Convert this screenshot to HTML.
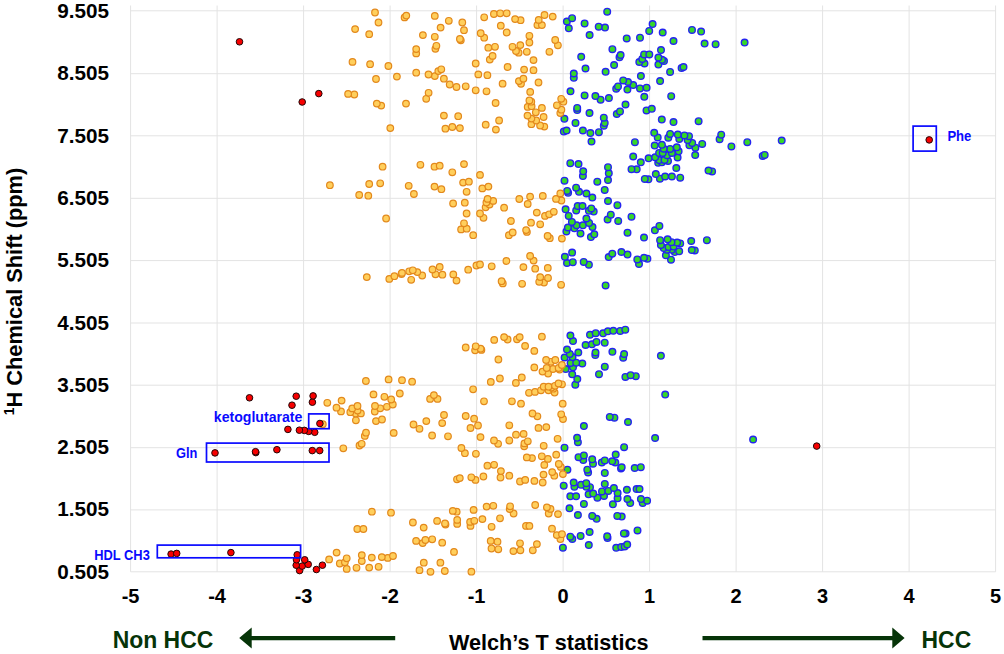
<!DOCTYPE html>
<html><head><meta charset="utf-8"><style>
html,body{margin:0;padding:0;background:#fff;}
svg{display:block;}
text{font-family:"Liberation Sans",sans-serif;font-weight:bold;}
.tk{font-size:20px;fill:#000;}
.gr{fill:#063408;font-size:23px;}
.o circle{fill:#ffcf5c;stroke:#e3891c;stroke-width:1.2;}
.g circle{fill:#36d62a;stroke:#2424f0;stroke-width:1.4;}
.r circle{fill:#f70000;stroke:#200808;stroke-width:1;}
.lb{fill:#0a0aff;font-size:14px;}
</style></head><body>
<svg width="1004" height="654" viewBox="0 0 1004 654">
<rect width="1004" height="654" fill="#fff"/>
<path d="M130.6 5.5V571.8 M217.1 5.5V571.8 M303.6 5.5V571.8 M390.1 5.5V571.8 M476.6 5.5V571.8 M563.1 5.5V571.8 M649.6 5.5V571.8 M736.1 5.5V571.8 M822.6 5.5V571.8 M909.1 5.5V571.8 M995.6 5.5V571.8 M130.6 10.8H995.6 M130.6 73.7H995.6 M130.6 135.8H995.6 M130.6 198.3H995.6 M130.6 260.6H995.6 M130.6 323H995.6 M130.6 385.2H995.6 M130.6 447.7H995.6 M130.6 509.9H995.6 M130.6 571.8H995.6" stroke="#e3e3e3" stroke-width="1" fill="none"/>
<g class="tk"><text x="109.1" y="18.1" text-anchor="end" textLength="51.8" lengthAdjust="spacingAndGlyphs">9.505</text><text x="109.1" y="80.39" text-anchor="end" textLength="51.8" lengthAdjust="spacingAndGlyphs">8.505</text><text x="109.1" y="142.68" text-anchor="end" textLength="51.8" lengthAdjust="spacingAndGlyphs">7.505</text><text x="109.1" y="204.97" text-anchor="end" textLength="51.8" lengthAdjust="spacingAndGlyphs">6.505</text><text x="109.1" y="267.26" text-anchor="end" textLength="51.8" lengthAdjust="spacingAndGlyphs">5.505</text><text x="109.1" y="329.55" text-anchor="end" textLength="51.8" lengthAdjust="spacingAndGlyphs">4.505</text><text x="109.1" y="391.84" text-anchor="end" textLength="51.8" lengthAdjust="spacingAndGlyphs">3.505</text><text x="109.1" y="454.13" text-anchor="end" textLength="51.8" lengthAdjust="spacingAndGlyphs">2.505</text><text x="109.1" y="516.42" text-anchor="end" textLength="51.8" lengthAdjust="spacingAndGlyphs">1.505</text><text x="109.1" y="578.71" text-anchor="end" textLength="51.8" lengthAdjust="spacingAndGlyphs">0.505</text><text x="130.6" y="603.1" text-anchor="middle">-5</text><text x="217.1" y="603.1" text-anchor="middle">-4</text><text x="303.6" y="603.1" text-anchor="middle">-3</text><text x="390.1" y="603.1" text-anchor="middle">-2</text><text x="476.6" y="603.1" text-anchor="middle">-1</text><text x="563.1" y="603.1" text-anchor="middle">0</text><text x="649.6" y="603.1" text-anchor="middle">1</text><text x="736.1" y="603.1" text-anchor="middle">2</text><text x="822.6" y="603.1" text-anchor="middle">3</text><text x="909.1" y="603.1" text-anchor="middle">4</text><text x="995.6" y="603.1" text-anchor="middle">5</text></g>
<text x="22" y="291.5" class="tk" transform="rotate(-90 22 291.5)" text-anchor="middle" textLength="247.5" lengthAdjust="spacingAndGlyphs" style="font-size:22px"><tspan style="font-size:14px" baseline-shift="super">1</tspan>H Chemical Shift (ppm)</text>
<text x="112.7" y="648.3" class="gr" textLength="100.6" lengthAdjust="spacingAndGlyphs">Non HCC</text>
<text x="921.6" y="648" class="gr" textLength="49.6" lengthAdjust="spacingAndGlyphs">HCC</text>
<text x="449" y="650.2" class="tk" style="font-size:22.8px" textLength="199.5" lengthAdjust="spacingAndGlyphs">Welch’s T statistics</text>
<path d="M251.7 636H395.2V640.2H251.7V648.5L239.2 638.1L251.7 627.4Z" fill="#063408"/>
<path d="M702.5 636H892.3V627.5L904.6 638.1L892.3 648.6V640.2H702.5Z" fill="#063408"/>
<g class="g"><circle cx="616.2" cy="547.8" r="3.3"/><circle cx="562.9" cy="547.7" r="3.3"/><circle cx="621.2" cy="547" r="3.3"/><circle cx="624.7" cy="546.5" r="3.3"/><circle cx="588.8" cy="545.1" r="3.3"/><circle cx="627.2" cy="544.5" r="3.3"/><circle cx="572.3" cy="539" r="3.3"/><circle cx="607.5" cy="538" r="3.3"/><circle cx="570.3" cy="536.7" r="3.3"/><circle cx="607.2" cy="536.3" r="3.3"/><circle cx="580.6" cy="535.9" r="3.3"/><circle cx="625.6" cy="533.6" r="3.3"/><circle cx="623.9" cy="533.4" r="3.3"/><circle cx="589.6" cy="532" r="3.3"/><circle cx="637.5" cy="530.4" r="3.3"/><circle cx="596.6" cy="518.8" r="3.3"/><circle cx="621.7" cy="516.6" r="3.3"/><circle cx="592.2" cy="515.9" r="3.3"/><circle cx="617.3" cy="515.9" r="3.3"/><circle cx="577.9" cy="515.1" r="3.3"/><circle cx="569.5" cy="508.3" r="3.3"/><circle cx="612.9" cy="504.3" r="3.3"/><circle cx="583.9" cy="503.9" r="3.3"/><circle cx="630.2" cy="503.1" r="3.3"/><circle cx="642.7" cy="503.1" r="3.3"/><circle cx="647.1" cy="500.7" r="3.3"/><circle cx="640.9" cy="499.1" r="3.3"/><circle cx="627.4" cy="499" r="3.3"/><circle cx="617.6" cy="498.3" r="3.3"/><circle cx="597.4" cy="497.7" r="3.3"/><circle cx="570.3" cy="496.3" r="3.3"/><circle cx="576.1" cy="496.3" r="3.3"/><circle cx="604" cy="495.9" r="3.3"/><circle cx="588.6" cy="494.3" r="3.3"/><circle cx="593.2" cy="493.6" r="3.3"/><circle cx="617.6" cy="493" r="3.3"/><circle cx="602" cy="491.4" r="3.3"/><circle cx="608.3" cy="490.9" r="3.3"/><circle cx="626.9" cy="489.8" r="3.3"/><circle cx="636.6" cy="489.1" r="3.3"/><circle cx="639.5" cy="489.1" r="3.3"/><circle cx="613.9" cy="488" r="3.3"/><circle cx="590" cy="487.2" r="3.3"/><circle cx="574.4" cy="486.8" r="3.3"/><circle cx="586.3" cy="486.8" r="3.3"/><circle cx="563.7" cy="485.7" r="3.3"/><circle cx="581.1" cy="484.8" r="3.3"/><circle cx="604.8" cy="483.9" r="3.3"/><circle cx="586.3" cy="483.2" r="3.3"/><circle cx="573.7" cy="482.5" r="3.3"/><circle cx="604.8" cy="472.9" r="3.3"/><circle cx="588.1" cy="472.5" r="3.3"/><circle cx="567.4" cy="469.7" r="3.3"/><circle cx="587.3" cy="469.7" r="3.3"/><circle cx="621" cy="468.5" r="3.3"/><circle cx="634.7" cy="468" r="3.3"/><circle cx="621.7" cy="467.3" r="3.3"/><circle cx="640.8" cy="467.2" r="3.3"/><circle cx="593" cy="463.7" r="3.3"/><circle cx="601.8" cy="462.5" r="3.3"/><circle cx="615.3" cy="462.5" r="3.3"/><circle cx="612.2" cy="461.3" r="3.3"/><circle cx="604.8" cy="460.4" r="3.3"/><circle cx="583.3" cy="460.1" r="3.3"/><circle cx="592.2" cy="459.3" r="3.3"/><circle cx="578.5" cy="457.2" r="3.3"/><circle cx="583.9" cy="455.4" r="3.3"/><circle cx="615.7" cy="454.6" r="3.3"/><circle cx="564.5" cy="447.7" r="3.3"/><circle cx="624.1" cy="447.2" r="3.3"/><circle cx="577.9" cy="442.2" r="3.3"/><circle cx="753.1" cy="439.5" r="3.3"/><circle cx="655.1" cy="438" r="3.3"/><circle cx="577.1" cy="437.8" r="3.3"/><circle cx="583.9" cy="426.1" r="3.3"/><circle cx="628" cy="422" r="3.3"/><circle cx="614.4" cy="417.7" r="3.3"/><circle cx="609.8" cy="416.9" r="3.3"/><circle cx="665.2" cy="394.6" r="3.3"/><circle cx="575.3" cy="384.7" r="3.3"/><circle cx="577.3" cy="379.1" r="3.3"/><circle cx="625.4" cy="376.9" r="3.3"/><circle cx="635.8" cy="376.2" r="3.3"/><circle cx="630.6" cy="375.2" r="3.3"/><circle cx="572.2" cy="374.3" r="3.3"/><circle cx="599" cy="374.2" r="3.3"/><circle cx="565.7" cy="369.1" r="3.3"/><circle cx="573" cy="367.3" r="3.3"/><circle cx="604.8" cy="366.7" r="3.3"/><circle cx="582.3" cy="363.5" r="3.3"/><circle cx="570.6" cy="362.9" r="3.3"/><circle cx="576.2" cy="362.7" r="3.3"/><circle cx="623.2" cy="357.7" r="3.3"/><circle cx="564.6" cy="357.5" r="3.3"/><circle cx="572.5" cy="357.1" r="3.3"/><circle cx="660.9" cy="355.8" r="3.3"/><circle cx="595.3" cy="355.1" r="3.3"/><circle cx="624.1" cy="354" r="3.3"/><circle cx="569.8" cy="353.9" r="3.3"/><circle cx="578.3" cy="352.5" r="3.3"/><circle cx="595.5" cy="352.5" r="3.3"/><circle cx="612.4" cy="351.8" r="3.3"/><circle cx="567" cy="349.6" r="3.3"/><circle cx="585.6" cy="345" r="3.3"/><circle cx="592" cy="344.3" r="3.3"/><circle cx="604.7" cy="342.7" r="3.3"/><circle cx="596.5" cy="341.9" r="3.3"/><circle cx="573" cy="341.1" r="3.3"/><circle cx="570.4" cy="335.5" r="3.3"/><circle cx="590" cy="334.8" r="3.3"/><circle cx="603.1" cy="333.3" r="3.3"/><circle cx="595.7" cy="333.2" r="3.3"/><circle cx="607.9" cy="331.3" r="3.3"/><circle cx="620.2" cy="330.9" r="3.3"/><circle cx="613.3" cy="330.8" r="3.3"/><circle cx="625.3" cy="329.7" r="3.3"/><circle cx="605.6" cy="285.4" r="3.3"/><circle cx="588.9" cy="264.7" r="3.3"/><circle cx="639" cy="264" r="3.3"/><circle cx="567" cy="263" r="3.3"/><circle cx="572.8" cy="262.2" r="3.3"/><circle cx="583.7" cy="261.9" r="3.3"/><circle cx="671" cy="259.7" r="3.3"/><circle cx="637.3" cy="259.4" r="3.3"/><circle cx="647.4" cy="258.7" r="3.3"/><circle cx="644" cy="257.8" r="3.3"/><circle cx="608.7" cy="257.1" r="3.3"/><circle cx="564.9" cy="256.8" r="3.3"/><circle cx="665.9" cy="255.3" r="3.3"/><circle cx="627.5" cy="254.6" r="3.3"/><circle cx="612.3" cy="253.7" r="3.3"/><circle cx="572.1" cy="252.6" r="3.3"/><circle cx="674.8" cy="252.1" r="3.3"/><circle cx="621.4" cy="252" r="3.3"/><circle cx="679.2" cy="251.3" r="3.3"/><circle cx="694.8" cy="250.4" r="3.3"/><circle cx="691.8" cy="250" r="3.3"/><circle cx="671.7" cy="249.7" r="3.3"/><circle cx="666.9" cy="249.7" r="3.3"/><circle cx="663.7" cy="248.1" r="3.3"/><circle cx="668.5" cy="247" r="3.3"/><circle cx="673.6" cy="246.6" r="3.3"/><circle cx="660.9" cy="245" r="3.3"/><circle cx="680.2" cy="243.4" r="3.3"/><circle cx="677.1" cy="242.6" r="3.3"/><circle cx="671.5" cy="242.2" r="3.3"/><circle cx="691.2" cy="241" r="3.3"/><circle cx="660.1" cy="240.2" r="3.3"/><circle cx="706.9" cy="240.2" r="3.3"/><circle cx="667.6" cy="239.3" r="3.3"/><circle cx="644" cy="237.6" r="3.3"/><circle cx="590.9" cy="237.1" r="3.3"/><circle cx="594.3" cy="234.3" r="3.3"/><circle cx="580.5" cy="233.6" r="3.3"/><circle cx="627.5" cy="232.7" r="3.3"/><circle cx="566.4" cy="231.4" r="3.3"/><circle cx="654.9" cy="230.3" r="3.3"/><circle cx="574.4" cy="228.3" r="3.3"/><circle cx="567.9" cy="227.5" r="3.3"/><circle cx="592.5" cy="227.1" r="3.3"/><circle cx="659.4" cy="225.9" r="3.3"/><circle cx="576.6" cy="225.3" r="3.3"/><circle cx="582.9" cy="225.3" r="3.3"/><circle cx="589.1" cy="222.9" r="3.3"/><circle cx="571.9" cy="221.9" r="3.3"/><circle cx="618.2" cy="220.9" r="3.3"/><circle cx="607.6" cy="219.5" r="3.3"/><circle cx="586.4" cy="218.5" r="3.3"/><circle cx="631.5" cy="216.7" r="3.3"/><circle cx="568.7" cy="215.9" r="3.3"/><circle cx="610.8" cy="214.7" r="3.3"/><circle cx="593.7" cy="211.6" r="3.3"/><circle cx="588.9" cy="210.8" r="3.3"/><circle cx="576.2" cy="210.4" r="3.3"/><circle cx="565.6" cy="209.3" r="3.3"/><circle cx="591.3" cy="208.4" r="3.3"/><circle cx="577.7" cy="206" r="3.3"/><circle cx="582.5" cy="206" r="3.3"/><circle cx="617.4" cy="205.2" r="3.3"/><circle cx="608" cy="201" r="3.3"/><circle cx="592.3" cy="197.6" r="3.3"/><circle cx="586.4" cy="193.5" r="3.3"/><circle cx="568.1" cy="192.8" r="3.3"/><circle cx="579" cy="191.8" r="3.3"/><circle cx="567.2" cy="190.9" r="3.3"/><circle cx="604.7" cy="189.9" r="3.3"/><circle cx="576.1" cy="187.7" r="3.3"/><circle cx="597.3" cy="181.7" r="3.3"/><circle cx="564.5" cy="180.7" r="3.3"/><circle cx="608" cy="180.1" r="3.3"/><circle cx="648.4" cy="179.3" r="3.3"/><circle cx="644.8" cy="178.9" r="3.3"/><circle cx="659.9" cy="178.7" r="3.3"/><circle cx="680.2" cy="177.7" r="3.3"/><circle cx="665.1" cy="176.5" r="3.3"/><circle cx="671.9" cy="176.5" r="3.3"/><circle cx="582.9" cy="176.1" r="3.3"/><circle cx="655.8" cy="174.1" r="3.3"/><circle cx="608.8" cy="173.3" r="3.3"/><circle cx="712.1" cy="171.4" r="3.3"/><circle cx="583.2" cy="171.3" r="3.3"/><circle cx="708.5" cy="170.6" r="3.3"/><circle cx="636.7" cy="169.3" r="3.3"/><circle cx="631.5" cy="169.2" r="3.3"/><circle cx="676.3" cy="168" r="3.3"/><circle cx="608" cy="167.2" r="3.3"/><circle cx="578.5" cy="164.1" r="3.3"/><circle cx="570.3" cy="163.2" r="3.3"/><circle cx="658.2" cy="162.8" r="3.3"/><circle cx="661.9" cy="162.3" r="3.3"/><circle cx="640.8" cy="162.3" r="3.3"/><circle cx="668" cy="160.9" r="3.3"/><circle cx="659.1" cy="160.1" r="3.3"/><circle cx="664.5" cy="159.9" r="3.3"/><circle cx="648.6" cy="158.3" r="3.3"/><circle cx="677.6" cy="157.5" r="3.3"/><circle cx="655.1" cy="157.3" r="3.3"/><circle cx="633.2" cy="156.5" r="3.3"/><circle cx="762.7" cy="155.9" r="3.3"/><circle cx="667.1" cy="155.3" r="3.3"/><circle cx="695.2" cy="155" r="3.3"/><circle cx="764.7" cy="154.9" r="3.3"/><circle cx="659.1" cy="152.9" r="3.3"/><circle cx="662.7" cy="152.9" r="3.3"/><circle cx="671.9" cy="152.9" r="3.3"/><circle cx="678.6" cy="151.3" r="3.3"/><circle cx="670.1" cy="148.9" r="3.3"/><circle cx="663.7" cy="148.7" r="3.3"/><circle cx="695.4" cy="147.7" r="3.3"/><circle cx="676.8" cy="147.3" r="3.3"/><circle cx="731.4" cy="146.4" r="3.3"/><circle cx="654.7" cy="145.6" r="3.3"/><circle cx="689.4" cy="145.3" r="3.3"/><circle cx="661.9" cy="144.8" r="3.3"/><circle cx="702.2" cy="143.9" r="3.3"/><circle cx="692.2" cy="142.9" r="3.3"/><circle cx="634.9" cy="142.2" r="3.3"/><circle cx="747.3" cy="142.2" r="3.3"/><circle cx="591.5" cy="141.6" r="3.3"/><circle cx="781.7" cy="140.6" r="3.3"/><circle cx="687.6" cy="140.1" r="3.3"/><circle cx="719.6" cy="139.2" r="3.3"/><circle cx="679.3" cy="138.9" r="3.3"/><circle cx="668.3" cy="137.7" r="3.3"/><circle cx="657.7" cy="137.4" r="3.3"/><circle cx="689" cy="136.2" r="3.3"/><circle cx="684.4" cy="135.4" r="3.3"/><circle cx="721.2" cy="134.7" r="3.3"/><circle cx="677.8" cy="134.6" r="3.3"/><circle cx="670.1" cy="133.9" r="3.3"/><circle cx="590.4" cy="133.1" r="3.3"/><circle cx="654.2" cy="132.8" r="3.3"/><circle cx="598.9" cy="132.2" r="3.3"/><circle cx="563.8" cy="131.6" r="3.3"/><circle cx="566.6" cy="130.5" r="3.3"/><circle cx="582.9" cy="130.5" r="3.3"/><circle cx="603.8" cy="125.7" r="3.3"/><circle cx="604.7" cy="123.1" r="3.3"/><circle cx="575.5" cy="122.9" r="3.3"/><circle cx="673.5" cy="122.1" r="3.3"/><circle cx="698.6" cy="121.2" r="3.3"/><circle cx="661.8" cy="119.6" r="3.3"/><circle cx="564.4" cy="118.8" r="3.3"/><circle cx="603.8" cy="117.7" r="3.3"/><circle cx="616.8" cy="114" r="3.3"/><circle cx="589.5" cy="113" r="3.3"/><circle cx="620" cy="111.4" r="3.3"/><circle cx="646.5" cy="110.4" r="3.3"/><circle cx="577.2" cy="110.1" r="3.3"/><circle cx="651.8" cy="108.8" r="3.3"/><circle cx="577.2" cy="107.9" r="3.3"/><circle cx="625.5" cy="104.5" r="3.3"/><circle cx="600.6" cy="99.7" r="3.3"/><circle cx="608.9" cy="98" r="3.3"/><circle cx="644.3" cy="96.8" r="3.3"/><circle cx="671.2" cy="96.2" r="3.3"/><circle cx="595.4" cy="96.1" r="3.3"/><circle cx="584.6" cy="95.4" r="3.3"/><circle cx="570.5" cy="91.3" r="3.3"/><circle cx="627.4" cy="89.6" r="3.3"/><circle cx="616.2" cy="88.7" r="3.3"/><circle cx="640" cy="88.4" r="3.3"/><circle cx="646.6" cy="87.7" r="3.3"/><circle cx="618" cy="86.4" r="3.3"/><circle cx="633.2" cy="85.1" r="3.3"/><circle cx="628" cy="82" r="3.3"/><circle cx="660.1" cy="81.1" r="3.3"/><circle cx="623.2" cy="80.4" r="3.3"/><circle cx="573.8" cy="77.8" r="3.3"/><circle cx="640.9" cy="76.1" r="3.3"/><circle cx="573.8" cy="73.5" r="3.3"/><circle cx="670.1" cy="71.9" r="3.3"/><circle cx="605.6" cy="71.8" r="3.3"/><circle cx="585.5" cy="68.5" r="3.3"/><circle cx="681.6" cy="67.9" r="3.3"/><circle cx="683.5" cy="67" r="3.3"/><circle cx="614.1" cy="65" r="3.3"/><circle cx="658.4" cy="64.6" r="3.3"/><circle cx="644.5" cy="63.5" r="3.3"/><circle cx="639.3" cy="62" r="3.3"/><circle cx="664" cy="61.1" r="3.3"/><circle cx="662.1" cy="59.8" r="3.3"/><circle cx="642.3" cy="58.9" r="3.3"/><circle cx="658.4" cy="57.6" r="3.3"/><circle cx="619.5" cy="57.2" r="3.3"/><circle cx="581.2" cy="56.8" r="3.3"/><circle cx="620.6" cy="55" r="3.3"/><circle cx="644.1" cy="54.4" r="3.3"/><circle cx="649.3" cy="54.4" r="3.3"/><circle cx="661" cy="50.1" r="3.3"/><circle cx="612.4" cy="49.2" r="3.3"/><circle cx="715.6" cy="44.2" r="3.3"/><circle cx="704.6" cy="43.6" r="3.3"/><circle cx="744.6" cy="42.6" r="3.3"/><circle cx="673.5" cy="41" r="3.3"/><circle cx="626.7" cy="38.4" r="3.3"/><circle cx="640" cy="37.7" r="3.3"/><circle cx="589.6" cy="35.1" r="3.3"/><circle cx="662.7" cy="32.5" r="3.3"/><circle cx="701.1" cy="31.6" r="3.3"/><circle cx="649.2" cy="30.9" r="3.3"/><circle cx="692" cy="29.9" r="3.3"/><circle cx="568.8" cy="28.3" r="3.3"/><circle cx="605" cy="27.6" r="3.3"/><circle cx="598.7" cy="26.7" r="3.3"/><circle cx="652.6" cy="24.1" r="3.3"/><circle cx="584.6" cy="23.4" r="3.3"/><circle cx="566.9" cy="21.5" r="3.3"/><circle cx="572.1" cy="18.2" r="3.3"/><circle cx="607.2" cy="11.7" r="3.3"/></g>
<g class="o"><circle cx="430.5" cy="571.8" r="3.3"/><circle cx="471.4" cy="571.7" r="3.3"/><circle cx="444.8" cy="571" r="3.3"/><circle cx="419.5" cy="570.2" r="3.3"/><circle cx="346.7" cy="568.9" r="3.3"/><circle cx="356.5" cy="567.8" r="3.3"/><circle cx="369.2" cy="567.6" r="3.3"/><circle cx="378.6" cy="566.8" r="3.3"/><circle cx="339.8" cy="563.5" r="3.3"/><circle cx="423.8" cy="562.7" r="3.3"/><circle cx="440.4" cy="562.7" r="3.3"/><circle cx="344.9" cy="562.3" r="3.3"/><circle cx="361.8" cy="561.1" r="3.3"/><circle cx="329.1" cy="559.4" r="3.3"/><circle cx="346.7" cy="558.3" r="3.3"/><circle cx="387.7" cy="557.9" r="3.3"/><circle cx="371.8" cy="557.6" r="3.3"/><circle cx="381.8" cy="557.1" r="3.3"/><circle cx="393" cy="556" r="3.3"/><circle cx="361.8" cy="555.1" r="3.3"/><circle cx="336.6" cy="552.6" r="3.3"/><circle cx="454" cy="551.9" r="3.3"/><circle cx="513.4" cy="551.1" r="3.3"/><circle cx="520.4" cy="550.3" r="3.3"/><circle cx="532.8" cy="550.3" r="3.3"/><circle cx="498.3" cy="549.3" r="3.3"/><circle cx="491.5" cy="548.5" r="3.3"/><circle cx="536.9" cy="544.1" r="3.3"/><circle cx="520" cy="543.3" r="3.3"/><circle cx="422.7" cy="543.1" r="3.3"/><circle cx="442.2" cy="542.7" r="3.3"/><circle cx="497.5" cy="541.7" r="3.3"/><circle cx="416.1" cy="540.9" r="3.3"/><circle cx="490.7" cy="540.9" r="3.3"/><circle cx="425.4" cy="540" r="3.3"/><circle cx="432.2" cy="539.3" r="3.3"/><circle cx="560.4" cy="539.1" r="3.3"/><circle cx="556.8" cy="535.1" r="3.3"/><circle cx="562" cy="534.2" r="3.3"/><circle cx="357.3" cy="529" r="3.3"/><circle cx="363.4" cy="529" r="3.3"/><circle cx="552" cy="528.7" r="3.3"/><circle cx="423.7" cy="527.6" r="3.3"/><circle cx="491.6" cy="526.8" r="3.3"/><circle cx="470.5" cy="525.9" r="3.3"/><circle cx="526" cy="525.9" r="3.3"/><circle cx="529.4" cy="525.9" r="3.3"/><circle cx="445.5" cy="524.5" r="3.3"/><circle cx="457.2" cy="523.9" r="3.3"/><circle cx="445" cy="523.5" r="3.3"/><circle cx="412.9" cy="522.5" r="3.3"/><circle cx="470.1" cy="521.9" r="3.3"/><circle cx="437.1" cy="520.9" r="3.3"/><circle cx="474.3" cy="520.8" r="3.3"/><circle cx="457.2" cy="519.9" r="3.3"/><circle cx="482.4" cy="519.1" r="3.3"/><circle cx="500" cy="518.3" r="3.3"/><circle cx="558" cy="514.1" r="3.3"/><circle cx="513.6" cy="513.5" r="3.3"/><circle cx="548.7" cy="513.5" r="3.3"/><circle cx="391" cy="512.7" r="3.3"/><circle cx="371.9" cy="511.7" r="3.3"/><circle cx="456.7" cy="511.7" r="3.3"/><circle cx="452.8" cy="510.9" r="3.3"/><circle cx="473.6" cy="509.9" r="3.3"/><circle cx="509.7" cy="509.1" r="3.3"/><circle cx="550.5" cy="508.9" r="3.3"/><circle cx="546.9" cy="507.4" r="3.3"/><circle cx="486.6" cy="506.6" r="3.3"/><circle cx="510.1" cy="506.3" r="3.3"/><circle cx="493.3" cy="505.8" r="3.3"/><circle cx="535.2" cy="505" r="3.3"/><circle cx="542.7" cy="482.5" r="3.3"/><circle cx="520" cy="481.5" r="3.3"/><circle cx="534.4" cy="480.9" r="3.3"/><circle cx="475.5" cy="479.9" r="3.3"/><circle cx="525.2" cy="479.9" r="3.3"/><circle cx="457" cy="479.3" r="3.3"/><circle cx="459.8" cy="478.1" r="3.3"/><circle cx="500.5" cy="477.5" r="3.3"/><circle cx="471.3" cy="477.3" r="3.3"/><circle cx="483.4" cy="476.5" r="3.3"/><circle cx="509.3" cy="475.7" r="3.3"/><circle cx="554.3" cy="475.7" r="3.3"/><circle cx="543.5" cy="474.6" r="3.3"/><circle cx="562.9" cy="474.1" r="3.3"/><circle cx="552.2" cy="472.1" r="3.3"/><circle cx="500.9" cy="471.1" r="3.3"/><circle cx="560.8" cy="466.9" r="3.3"/><circle cx="487.4" cy="465.7" r="3.3"/><circle cx="544.3" cy="464.9" r="3.3"/><circle cx="494.1" cy="464.8" r="3.3"/><circle cx="558.8" cy="464" r="3.3"/><circle cx="547.9" cy="458.9" r="3.3"/><circle cx="532" cy="458.1" r="3.3"/><circle cx="526.8" cy="457.4" r="3.3"/><circle cx="541.8" cy="456.3" r="3.3"/><circle cx="556.2" cy="454.7" r="3.3"/><circle cx="475.9" cy="453.8" r="3.3"/><circle cx="464.9" cy="453.2" r="3.3"/><circle cx="343.3" cy="448.3" r="3.3"/><circle cx="461.4" cy="448" r="3.3"/><circle cx="524.2" cy="446.3" r="3.3"/><circle cx="543.7" cy="445.8" r="3.3"/><circle cx="359.5" cy="445.5" r="3.3"/><circle cx="361.7" cy="443.8" r="3.3"/><circle cx="498.1" cy="443.8" r="3.3"/><circle cx="524.4" cy="443.4" r="3.3"/><circle cx="527.8" cy="441.3" r="3.3"/><circle cx="494" cy="440.5" r="3.3"/><circle cx="509.3" cy="440.5" r="3.3"/><circle cx="557.6" cy="438.8" r="3.3"/><circle cx="480.5" cy="437.1" r="3.3"/><circle cx="448" cy="436.3" r="3.3"/><circle cx="364.8" cy="435.9" r="3.3"/><circle cx="432.1" cy="435.5" r="3.3"/><circle cx="516" cy="434.7" r="3.3"/><circle cx="523.6" cy="433.9" r="3.3"/><circle cx="393.7" cy="432.9" r="3.3"/><circle cx="366" cy="432.7" r="3.3"/><circle cx="419.5" cy="428.8" r="3.3"/><circle cx="470.5" cy="428" r="3.3"/><circle cx="538.5" cy="427.9" r="3.3"/><circle cx="546.3" cy="427.1" r="3.3"/><circle cx="478" cy="425.5" r="3.3"/><circle cx="509.3" cy="425.3" r="3.3"/><circle cx="413.5" cy="424.5" r="3.3"/><circle cx="322.8" cy="424.2" r="3.3"/><circle cx="442.2" cy="423.1" r="3.3"/><circle cx="376" cy="421.1" r="3.3"/><circle cx="426.3" cy="421.1" r="3.3"/><circle cx="355.9" cy="420.3" r="3.3"/><circle cx="382" cy="419.5" r="3.3"/><circle cx="563" cy="419" r="3.3"/><circle cx="474.1" cy="418.7" r="3.3"/><circle cx="537.4" cy="416.3" r="3.3"/><circle cx="465.7" cy="416" r="3.3"/><circle cx="444" cy="415" r="3.3"/><circle cx="561.2" cy="414.3" r="3.3"/><circle cx="355.7" cy="413.5" r="3.3"/><circle cx="532.5" cy="413.5" r="3.3"/><circle cx="360.9" cy="413.4" r="3.3"/><circle cx="350.3" cy="412.2" r="3.3"/><circle cx="374.8" cy="411.5" r="3.3"/><circle cx="341" cy="411.4" r="3.3"/><circle cx="357.6" cy="410.6" r="3.3"/><circle cx="352.2" cy="408.4" r="3.3"/><circle cx="380.2" cy="408.3" r="3.3"/><circle cx="336.5" cy="407.7" r="3.3"/><circle cx="386.9" cy="406.8" r="3.3"/><circle cx="357.5" cy="406" r="3.3"/><circle cx="375" cy="406" r="3.3"/><circle cx="392.8" cy="404.5" r="3.3"/><circle cx="521" cy="403.7" r="3.3"/><circle cx="562.7" cy="403.7" r="3.3"/><circle cx="327.3" cy="402.8" r="3.3"/><circle cx="484" cy="401.3" r="3.3"/><circle cx="511.9" cy="401.3" r="3.3"/><circle cx="341.6" cy="400.6" r="3.3"/><circle cx="391.2" cy="399.5" r="3.3"/><circle cx="430.1" cy="398.9" r="3.3"/><circle cx="437.5" cy="398.9" r="3.3"/><circle cx="384.4" cy="396.8" r="3.3"/><circle cx="433.9" cy="395.1" r="3.3"/><circle cx="373.5" cy="394.4" r="3.3"/><circle cx="399.8" cy="393.5" r="3.3"/><circle cx="529" cy="392.8" r="3.3"/><circle cx="554.6" cy="392.5" r="3.3"/><circle cx="535" cy="391.9" r="3.3"/><circle cx="541" cy="390.3" r="3.3"/><circle cx="548.5" cy="390.3" r="3.3"/><circle cx="473.1" cy="389.3" r="3.3"/><circle cx="553.3" cy="388.7" r="3.3"/><circle cx="551.6" cy="387.5" r="3.3"/><circle cx="543.7" cy="386.7" r="3.3"/><circle cx="548.5" cy="386.7" r="3.3"/><circle cx="555" cy="385.8" r="3.3"/><circle cx="562" cy="384.3" r="3.3"/><circle cx="558.5" cy="383.5" r="3.3"/><circle cx="515.9" cy="382.9" r="3.3"/><circle cx="490.8" cy="381.9" r="3.3"/><circle cx="412.1" cy="381.7" r="3.3"/><circle cx="365.9" cy="381" r="3.3"/><circle cx="402" cy="380.2" r="3.3"/><circle cx="388.6" cy="379.4" r="3.3"/><circle cx="499.9" cy="378.5" r="3.3"/><circle cx="521.8" cy="377.5" r="3.3"/><circle cx="548.1" cy="373.5" r="3.3"/><circle cx="542.5" cy="371.6" r="3.3"/><circle cx="559.6" cy="369.6" r="3.3"/><circle cx="553" cy="369" r="3.3"/><circle cx="546.7" cy="368" r="3.3"/><circle cx="558.6" cy="368" r="3.3"/><circle cx="534.3" cy="367.4" r="3.3"/><circle cx="561.9" cy="365" r="3.3"/><circle cx="551" cy="361.8" r="3.3"/><circle cx="546.1" cy="360" r="3.3"/><circle cx="555.3" cy="360" r="3.3"/><circle cx="498.4" cy="359.5" r="3.3"/><circle cx="534.3" cy="350.9" r="3.3"/><circle cx="475.1" cy="350.3" r="3.3"/><circle cx="481.4" cy="349.9" r="3.3"/><circle cx="480.6" cy="348.7" r="3.3"/><circle cx="465.7" cy="347.5" r="3.3"/><circle cx="475.7" cy="346.3" r="3.3"/><circle cx="525.1" cy="345.9" r="3.3"/><circle cx="494.2" cy="339.9" r="3.3"/><circle cx="507.6" cy="339.5" r="3.3"/><circle cx="517" cy="339.3" r="3.3"/><circle cx="504.1" cy="337.1" r="3.3"/><circle cx="519.7" cy="337.1" r="3.3"/><circle cx="541.9" cy="336.7" r="3.3"/><circle cx="561.1" cy="284.8" r="3.3"/><circle cx="522.1" cy="283.8" r="3.3"/><circle cx="502.8" cy="283.4" r="3.3"/><circle cx="544" cy="282.6" r="3.3"/><circle cx="539.2" cy="281.8" r="3.3"/><circle cx="501.6" cy="281.2" r="3.3"/><circle cx="456.5" cy="280.6" r="3.3"/><circle cx="411.2" cy="279.8" r="3.3"/><circle cx="389.3" cy="278.9" r="3.3"/><circle cx="548" cy="278" r="3.3"/><circle cx="366.8" cy="277.1" r="3.3"/><circle cx="540.2" cy="277.1" r="3.3"/><circle cx="394.4" cy="276.2" r="3.3"/><circle cx="422.2" cy="275.5" r="3.3"/><circle cx="442.4" cy="274.7" r="3.3"/><circle cx="453.3" cy="274.4" r="3.3"/><circle cx="435.5" cy="274.3" r="3.3"/><circle cx="401.5" cy="274" r="3.3"/><circle cx="402" cy="272.9" r="3.3"/><circle cx="417.3" cy="272.1" r="3.3"/><circle cx="409.2" cy="271.3" r="3.3"/><circle cx="412.8" cy="270.3" r="3.3"/><circle cx="468.2" cy="269.7" r="3.3"/><circle cx="432.5" cy="269.5" r="3.3"/><circle cx="535.2" cy="268.7" r="3.3"/><circle cx="547.8" cy="267.9" r="3.3"/><circle cx="523.4" cy="267.1" r="3.3"/><circle cx="439.7" cy="266.9" r="3.3"/><circle cx="491.7" cy="266.3" r="3.3"/><circle cx="476.4" cy="265.5" r="3.3"/><circle cx="480" cy="264.5" r="3.3"/><circle cx="506.4" cy="261" r="3.3"/><circle cx="533.6" cy="260.6" r="3.3"/><circle cx="530.1" cy="255.9" r="3.3"/><circle cx="561.9" cy="238.6" r="3.3"/><circle cx="549.8" cy="238.2" r="3.3"/><circle cx="547.6" cy="235.9" r="3.3"/><circle cx="473.2" cy="235.2" r="3.3"/><circle cx="508.9" cy="235.2" r="3.3"/><circle cx="512.7" cy="232.5" r="3.3"/><circle cx="526.9" cy="231.9" r="3.3"/><circle cx="526.1" cy="230.1" r="3.3"/><circle cx="461.1" cy="229.4" r="3.3"/><circle cx="466.7" cy="228.7" r="3.3"/><circle cx="540.2" cy="224.3" r="3.3"/><circle cx="464" cy="223.3" r="3.3"/><circle cx="531" cy="222.7" r="3.3"/><circle cx="510.9" cy="221" r="3.3"/><circle cx="386.1" cy="218.5" r="3.3"/><circle cx="483.5" cy="217.8" r="3.3"/><circle cx="545" cy="215.9" r="3.3"/><circle cx="549.2" cy="214.3" r="3.3"/><circle cx="466.6" cy="213.5" r="3.3"/><circle cx="480" cy="213.5" r="3.3"/><circle cx="536.8" cy="212.6" r="3.3"/><circle cx="553.8" cy="211.8" r="3.3"/><circle cx="504.1" cy="207.7" r="3.3"/><circle cx="485.6" cy="207.3" r="3.3"/><circle cx="489.6" cy="204.5" r="3.3"/><circle cx="527.7" cy="204" r="3.3"/><circle cx="453.1" cy="203.5" r="3.3"/><circle cx="464.8" cy="202.7" r="3.3"/><circle cx="486.4" cy="202.5" r="3.3"/><circle cx="493.2" cy="200.9" r="3.3"/><circle cx="561.4" cy="200.5" r="3.3"/><circle cx="519.3" cy="199" r="3.3"/><circle cx="487.6" cy="198.9" r="3.3"/><circle cx="556" cy="198.9" r="3.3"/><circle cx="530.1" cy="196.6" r="3.3"/><circle cx="542.8" cy="195.9" r="3.3"/><circle cx="368.3" cy="195.7" r="3.3"/><circle cx="359.2" cy="195" r="3.3"/><circle cx="413.9" cy="194" r="3.3"/><circle cx="560.3" cy="193.4" r="3.3"/><circle cx="466.6" cy="191.8" r="3.3"/><circle cx="441.4" cy="189.2" r="3.3"/><circle cx="482.3" cy="188.4" r="3.3"/><circle cx="434.5" cy="186.6" r="3.3"/><circle cx="488.4" cy="186.6" r="3.3"/><circle cx="408.7" cy="185.8" r="3.3"/><circle cx="329.9" cy="185.2" r="3.3"/><circle cx="369.2" cy="184" r="3.3"/><circle cx="380.2" cy="183.3" r="3.3"/><circle cx="463.1" cy="182.6" r="3.3"/><circle cx="468.9" cy="181.7" r="3.3"/><circle cx="480" cy="174.9" r="3.3"/><circle cx="452.3" cy="172.3" r="3.3"/><circle cx="382.6" cy="166.7" r="3.3"/><circle cx="434.5" cy="166.7" r="3.3"/><circle cx="439.7" cy="165.7" r="3.3"/><circle cx="420.4" cy="164.8" r="3.3"/><circle cx="464" cy="164.1" r="3.3"/><circle cx="495.9" cy="129.6" r="3.3"/><circle cx="445.4" cy="128.7" r="3.3"/><circle cx="390.3" cy="128.1" r="3.3"/><circle cx="459.9" cy="128.1" r="3.3"/><circle cx="452.3" cy="127" r="3.3"/><circle cx="544.3" cy="126.6" r="3.3"/><circle cx="540.1" cy="125.5" r="3.3"/><circle cx="485.7" cy="124.7" r="3.3"/><circle cx="531.4" cy="124.2" r="3.3"/><circle cx="499.1" cy="120.5" r="3.3"/><circle cx="536.2" cy="120.5" r="3.3"/><circle cx="531.4" cy="118.6" r="3.3"/><circle cx="543.6" cy="117" r="3.3"/><circle cx="458.2" cy="116.2" r="3.3"/><circle cx="443.9" cy="115.6" r="3.3"/><circle cx="527.5" cy="115.6" r="3.3"/><circle cx="560.3" cy="113.1" r="3.3"/><circle cx="535.8" cy="112.3" r="3.3"/><circle cx="561.4" cy="109.7" r="3.3"/><circle cx="541.9" cy="107.9" r="3.3"/><circle cx="527.7" cy="106.9" r="3.3"/><circle cx="531.6" cy="106.2" r="3.3"/><circle cx="381.2" cy="105.6" r="3.3"/><circle cx="556.9" cy="105.3" r="3.3"/><circle cx="376.8" cy="103.6" r="3.3"/><circle cx="406" cy="103.6" r="3.3"/><circle cx="495.6" cy="103" r="3.3"/><circle cx="531.3" cy="101.7" r="3.3"/><circle cx="563.4" cy="101.7" r="3.3"/><circle cx="529.4" cy="100.4" r="3.3"/><circle cx="426.2" cy="98.8" r="3.3"/><circle cx="561.2" cy="98.8" r="3.3"/><circle cx="354.3" cy="94.5" r="3.3"/><circle cx="348.1" cy="93.9" r="3.3"/><circle cx="428.6" cy="92.8" r="3.3"/><circle cx="530.2" cy="91.9" r="3.3"/><circle cx="486.5" cy="91.3" r="3.3"/><circle cx="475.7" cy="90.3" r="3.3"/><circle cx="456.5" cy="87" r="3.3"/><circle cx="465.7" cy="86.3" r="3.3"/><circle cx="449.7" cy="84.5" r="3.3"/><circle cx="521" cy="83.8" r="3.3"/><circle cx="502.6" cy="83.7" r="3.3"/><circle cx="538.5" cy="82.5" r="3.3"/><circle cx="518.9" cy="81.1" r="3.3"/><circle cx="376" cy="79" r="3.3"/><circle cx="443.9" cy="78.7" r="3.3"/><circle cx="523.4" cy="78.7" r="3.3"/><circle cx="396.9" cy="76.6" r="3.3"/><circle cx="434.8" cy="76.1" r="3.3"/><circle cx="487.4" cy="75.2" r="3.3"/><circle cx="428.5" cy="74.5" r="3.3"/><circle cx="478.3" cy="74.4" r="3.3"/><circle cx="416.2" cy="72.7" r="3.3"/><circle cx="438.3" cy="71.1" r="3.3"/><circle cx="533.5" cy="70.2" r="3.3"/><circle cx="524.1" cy="69.6" r="3.3"/><circle cx="441.3" cy="69.3" r="3.3"/><circle cx="507.6" cy="67" r="3.3"/><circle cx="388.4" cy="66" r="3.3"/><circle cx="370.1" cy="64.2" r="3.3"/><circle cx="475.7" cy="63.5" r="3.3"/><circle cx="352.5" cy="61.9" r="3.3"/><circle cx="533.5" cy="60.1" r="3.3"/><circle cx="489.8" cy="59.6" r="3.3"/><circle cx="492.6" cy="55.9" r="3.3"/><circle cx="416.2" cy="53.4" r="3.3"/><circle cx="518.6" cy="52.7" r="3.3"/><circle cx="526.8" cy="51.8" r="3.3"/><circle cx="549.4" cy="51.8" r="3.3"/><circle cx="516" cy="51" r="3.3"/><circle cx="416.2" cy="49.1" r="3.3"/><circle cx="435.4" cy="48.8" r="3.3"/><circle cx="488.3" cy="47.7" r="3.3"/><circle cx="495" cy="46.8" r="3.3"/><circle cx="512.5" cy="46.8" r="3.3"/><circle cx="436.4" cy="45.8" r="3.3"/><circle cx="557.9" cy="45.3" r="3.3"/><circle cx="520.3" cy="45.1" r="3.3"/><circle cx="529.4" cy="42.5" r="3.3"/><circle cx="460.8" cy="40.3" r="3.3"/><circle cx="555.2" cy="40" r="3.3"/><circle cx="459.9" cy="39" r="3.3"/><circle cx="484.2" cy="37.7" r="3.3"/><circle cx="434.8" cy="36.8" r="3.3"/><circle cx="529.4" cy="35.8" r="3.3"/><circle cx="422.9" cy="35.1" r="3.3"/><circle cx="369.2" cy="34.2" r="3.3"/><circle cx="480.7" cy="33.2" r="3.3"/><circle cx="506.7" cy="32.5" r="3.3"/><circle cx="464" cy="30.2" r="3.3"/><circle cx="355.1" cy="29.1" r="3.3"/><circle cx="440.6" cy="27.6" r="3.3"/><circle cx="500.8" cy="25.7" r="3.3"/><circle cx="537.4" cy="25.1" r="3.3"/><circle cx="541.9" cy="25.1" r="3.3"/><circle cx="378.5" cy="22.5" r="3.3"/><circle cx="462.3" cy="22.5" r="3.3"/><circle cx="448.8" cy="20.8" r="3.3"/><circle cx="520.6" cy="20.2" r="3.3"/><circle cx="538.7" cy="19.9" r="3.3"/><circle cx="515.1" cy="19.1" r="3.3"/><circle cx="404.6" cy="17.4" r="3.3"/><circle cx="484.2" cy="17.3" r="3.3"/><circle cx="552.7" cy="16.6" r="3.3"/><circle cx="434.8" cy="15.9" r="3.3"/><circle cx="406.3" cy="15.6" r="3.3"/><circle cx="544.5" cy="15" r="3.3"/><circle cx="493.9" cy="14" r="3.3"/><circle cx="500.2" cy="13.3" r="3.3"/><circle cx="506.7" cy="13.3" r="3.3"/><circle cx="375" cy="12.5" r="3.3"/></g>
<g class="r"><circle cx="299.6" cy="570.6" r="3.3"/><circle cx="316.4" cy="569.5" r="3.3"/><circle cx="302.2" cy="566.1" r="3.3"/><circle cx="296.2" cy="565.2" r="3.3"/><circle cx="322.4" cy="565.2" r="3.3"/><circle cx="308.2" cy="564.4" r="3.3"/><circle cx="296.5" cy="559.8" r="3.3"/><circle cx="304.7" cy="559.8" r="3.3"/><circle cx="297.2" cy="554.8" r="3.3"/><circle cx="171.1" cy="554.1" r="3.3"/><circle cx="176.7" cy="553.4" r="3.3"/><circle cx="230.9" cy="552.6" r="3.3"/><circle cx="215" cy="452.9" r="3.3"/><circle cx="255.8" cy="452.6" r="3.3"/><circle cx="255.5" cy="451.7" r="3.3"/><circle cx="312.3" cy="450.6" r="3.3"/><circle cx="319.7" cy="450.6" r="3.3"/><circle cx="276.9" cy="449.7" r="3.3"/><circle cx="816.7" cy="446.1" r="3.3"/><circle cx="314.7" cy="432.3" r="3.3"/><circle cx="308.7" cy="431.4" r="3.3"/><circle cx="304.4" cy="430.4" r="3.3"/><circle cx="299.4" cy="430.2" r="3.3"/><circle cx="287.9" cy="429.4" r="3.3"/><circle cx="319.9" cy="423.5" r="3.3"/><circle cx="292" cy="405.2" r="3.3"/><circle cx="312.4" cy="402.2" r="3.3"/><circle cx="249.5" cy="397.8" r="3.3"/><circle cx="296.2" cy="396.2" r="3.3"/><circle cx="313.1" cy="395.9" r="3.3"/><circle cx="929.2" cy="139.9" r="3.3"/><circle cx="302.2" cy="102" r="3.3"/><circle cx="318.8" cy="93.6" r="3.3"/><circle cx="239.5" cy="41.8" r="3.3"/></g>

<g fill="none" stroke="#0a0aff" stroke-width="1.7">
<rect x="913.1" y="126.1" width="23.2" height="25"/>
<rect x="308.7" y="413.9" width="20.4" height="14.8"/>
<rect x="206.5" y="443.1" width="122.5" height="18.9"/>
<rect x="157.3" y="545.1" width="143.3" height="12.7"/>
</g>
<g class="lb">
<text x="947.4" y="141.4" textLength="24" lengthAdjust="spacingAndGlyphs">Phe</text>
<text x="213.8" y="421.8" textLength="88.6" lengthAdjust="spacingAndGlyphs">ketoglutarate</text>
<text x="176" y="457.9" textLength="21.4" lengthAdjust="spacingAndGlyphs">Gln</text>
<text x="94.3" y="559.9" textLength="55.5" lengthAdjust="spacingAndGlyphs">HDL CH3</text>
</g>

</svg>
</body></html>
